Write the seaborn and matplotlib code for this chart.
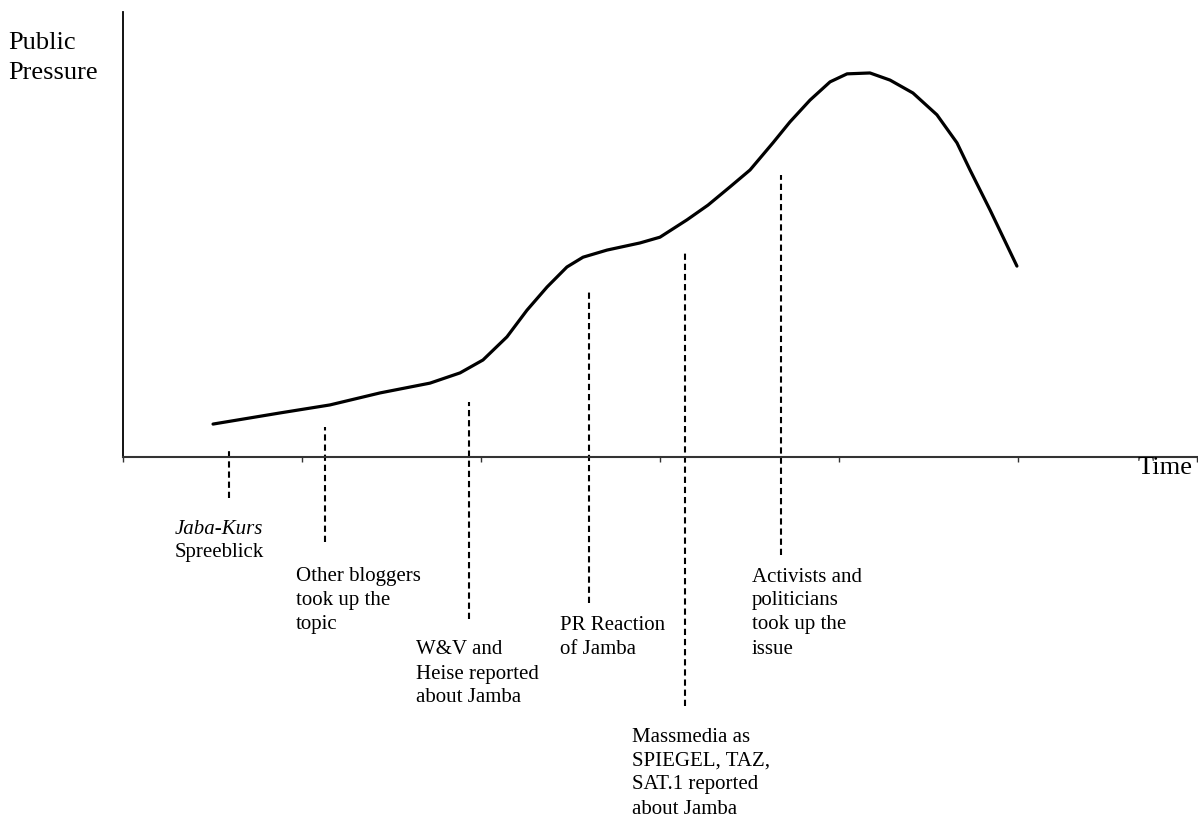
import matplotlib
matplotlib.use("Agg")
import matplotlib.pyplot as plt
import seaborn as sns
import pandas as pd

# ---- data ----
time_pts = [0.503, 0.877, 1.156, 1.436, 1.715, 1.883, 2.011, 2.145, 2.257, 2.369,
            2.480, 2.570, 2.704, 2.888, 3.000, 3.151, 3.268, 3.391, 3.503, 3.631,
            3.726, 3.838, 3.950, 4.045, 4.173, 4.285, 4.413, 4.547, 4.659, 4.732,
            4.844, 4.994]
pressure = [7.4, 9.9, 11.7, 14.4, 16.6, 18.9, 21.8, 27.0, 33.0, 38.2,
            42.7, 44.9, 46.5, 48.1, 49.4, 53.3, 56.6, 60.7, 64.5, 70.6,
            75.3, 80.2, 84.3, 86.1, 86.3, 84.7, 81.8, 76.9, 70.6, 64.5,
            55.5, 42.9]

event_time = [0.592, 1.128, 1.933, 2.603, 3.140, 3.676]
event_top = [1.6, 6.7, 12.4, 37.1, 45.8, 63.4]
event_bottom = [-9.2, -19.1, -36.4, -32.8, -56.0, -22.0]
event_labels = [
    ["Jaba-Kurs", "Spreeblick"],
    ["Other bloggers", "took up the", "topic"],
    ["W&V and", "Heise reported", "about Jamba"],
    ["PR Reaction", "of Jamba"],
    ["Massmedia as", "SPIEGEL, TAZ,", "SAT.1 reported", "about Jamba"],
    ["Activists and", "politicians", "took up the", "issue"],
]
x_ticks = [0, 1, 2, 3, 4, 5, 6]
y_title = ["Public", "Pressure"]
x_title = "Time"

# ---- layout (pixels in a 1198x817 canvas) ----
W, H = 1198, 817
label_left_px = [175, 296, 416, 560, 632, 752]
label_first_center_px = [529, 577, 650, 625, 737, 577]
line_pitch = 24

sns.set_style("white")
plt.rcParams["font.family"] = ["Liberation Serif", "DejaVu Serif"]
plt.rcParams["lines.scale_dashes"] = False

fig = plt.figure(figsize=(W / 100, H / 100), dpi=100)
ax = fig.add_axes([123 / W, (H - 457) / H, (1197 - 123) / W, 445 / H])

df = pd.DataFrame({"time": time_pts, "pressure": pressure})
sns.lineplot(data=df, x="time", y="pressure", ax=ax, color="black",
             linewidth=2.3, sort=False, estimator=None,
             solid_joinstyle="round", solid_capstyle="round")

ax.set_xlim(0, 6)
ax.set_ylim(0, 100)
ax.set_xticks(x_ticks)
ax.set_xticklabels([])
ax.set_yticks([])
ax.set_xlabel("")
ax.set_ylabel("")
for s in ["top", "right"]:
    ax.spines[s].set_visible(False)
ax.spines["left"].set_color("black")
ax.spines["left"].set_linewidth(1.3)
ax.spines["bottom"].set_color("#333333")
ax.spines["bottom"].set_linewidth(1.5)
ax.tick_params(axis="x", direction="out", length=3.5, width=1.0, color="#333333",
               bottom=True)

for t, top, bot in zip(event_time, event_top, event_bottom):
    ax.plot([t, t], [bot, top], color="black", linewidth=1.5,
            linestyle=(0, (4.5, 2.8)), clip_on=False)

for i, lines in enumerate(event_labels):
    for j, line in enumerate(lines):
        style = "italic" if (i == 0 and j == 0) else "normal"
        fig.text(label_left_px[i] / W,
                 1 - (label_first_center_px[i] + j * line_pitch) / H,
                 line, fontsize=15, ha="left", va="center", style=style,
                 color="black")

for j, line in enumerate(y_title):
    fig.text(8 / W, 1 - (43 + j * 30) / H, line, fontsize=19,
             ha="left", va="center", color="black")
fig.text(1138 / W, 1 - 468 / H, x_title, fontsize=19, ha="left", va="center",
         color="black")

fig.savefig("out.png", dpi=100, facecolor="white")
